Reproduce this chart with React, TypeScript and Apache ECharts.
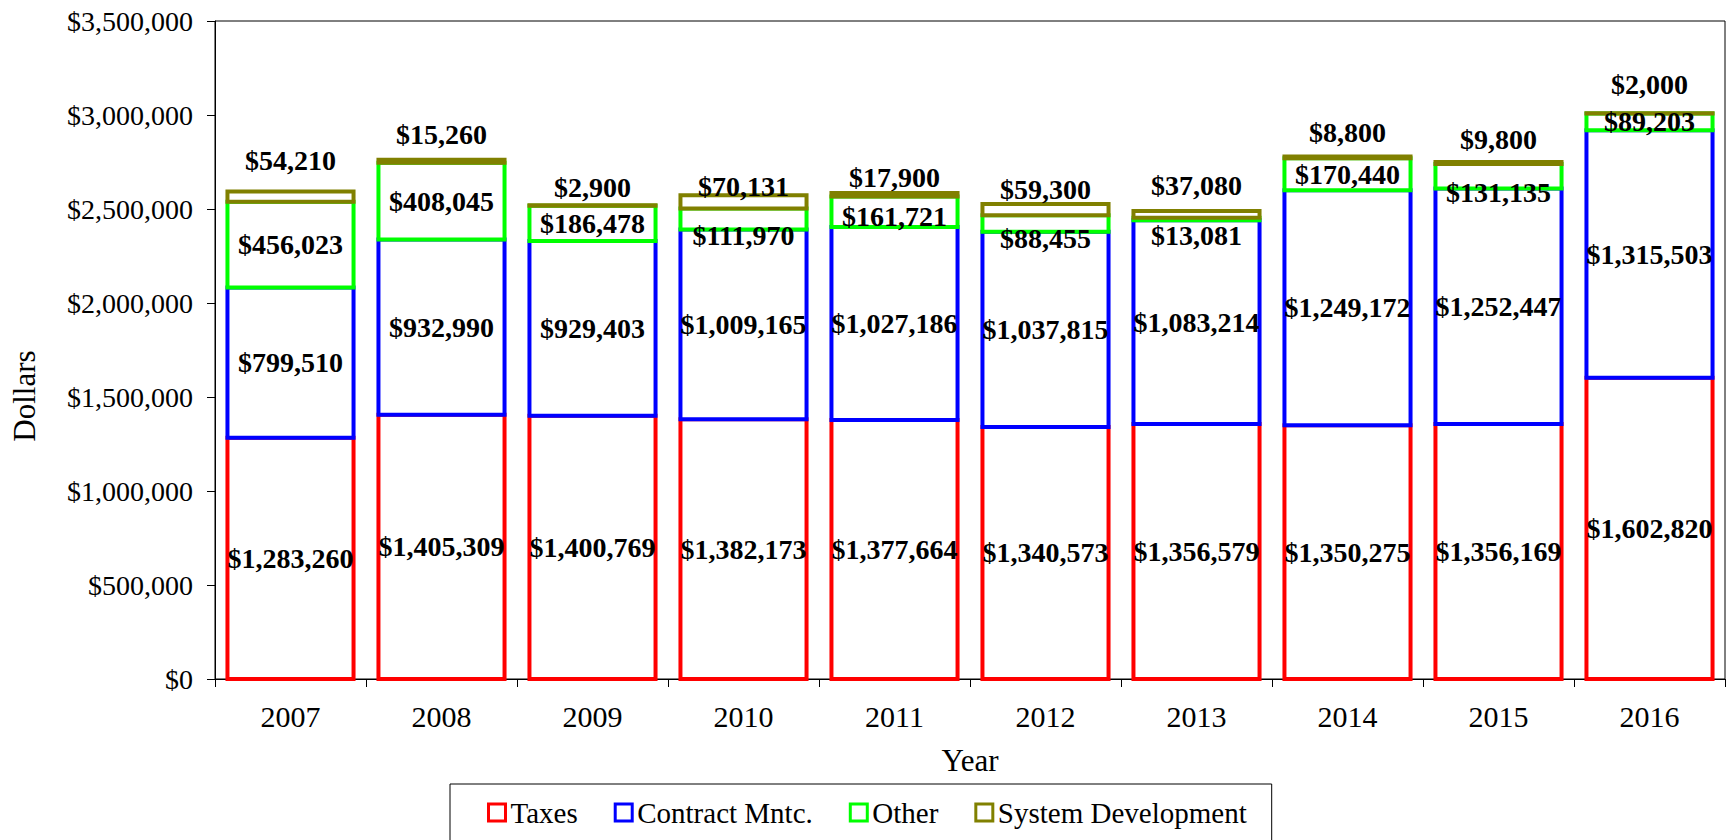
import React, { useEffect, useRef } from "react";
import * as echarts from "echarts";

const years = ["2007", "2008", "2009", "2010", "2011", "2012", "2013", "2014", "2015", "2016"];
const taxes = [1283260, 1405309, 1400769, 1382173, 1377664, 1340573, 1356579, 1350275, 1356169, 1602820];
const contractMntc = [799510, 932990, 929403, 1009165, 1027186, 1037815, 1083214, 1249172, 1252447, 1315503];
const other = [456023, 408045, 186478, 111970, 161721, 88455, 13081, 170440, 131135, 89203];
const systemDevelopment = [54210, 15260, 2900, 70131, 17900, 59300, 37080, 8800, 9800, 2000];
const yTicks = { min: 0, max: 3500000, interval: 500000 };

// label placement tweaks (style only, px), as in the reference
const otherLabelNudge = [0, 0, 0, 17, 5, 15, 16, 0, 16, 0];
const sysDevLabelNudge = [-8, -2, 5, 14, 7, 8, -2, -1, 0, -6];

const FONT = "'Liberation Serif', 'Times New Roman', serif";
const money = (v: number) => "$" + Math.round(v).toLocaleString("en-US");

const seriesDefs = [
  { name: "Taxes", values: taxes, color: "#FF0000", mode: "inside", nudge: null as number[] | null },
  { name: "Contract Mntc.", values: contractMntc, color: "#0000FF", mode: "inside", nudge: null as number[] | null },
  { name: "Other", values: other, color: "#00FF00", mode: "inside", nudge: otherLabelNudge },
  { name: "System Development", values: systemDevelopment, color: "#808000", mode: "top", nudge: sysDevLabelNudge },
];

export default function App() {
  const ref = useRef<HTMLDivElement>(null);
  useEffect(() => {
    if (!ref.current) return;
    const chart = echarts.init(ref.current, null, { renderer: "svg" });

    const series = seriesDefs.map((def, s) => {
      const data = years.map((_, i) => {
        let base = 0;
        for (let k = 0; k < s; k++) base += seriesDefs[k].values[i];
        return [i, base, base + def.values[i], def.values[i]];
      });
      return {
        name: def.name,
        type: "custom",
        data,
        encode: { x: 0, y: [1, 2] },
        itemStyle: { color: "#fff", borderColor: def.color, borderWidth: 3 },
        renderItem: (params: any, api: any) => {
          const i = api.value(0);
          const lo = api.coord([i, api.value(1)]);
          const hi = api.coord([i, api.value(2)]);
          const bw = api.size([1, 0])[0] * 0.835;
          const nudge = def.nudge ? def.nudge[i] : 0;
          const ly = def.mode === "top" ? hi[1] - 23 + nudge : (lo[1] + hi[1]) / 2 + nudge;
          return {
            type: "group",
            children: [
              {
                type: "rect",
                shape: { x: lo[0] - bw / 2, y: hi[1], width: bw, height: lo[1] - hi[1] },
                style: { fill: "#fff", stroke: def.color, lineWidth: 4 },
              },
              {
                type: "text",
                x: lo[0],
                y: ly,
                z2: 100,
                style: {
                  text: money(api.value(3)),
                  fontFamily: FONT,
                  fontWeight: "bold",
                  fontSize: 28,
                  fill: "#000",
                  textAlign: "center",
                  textVerticalAlign: "middle",
                },
              },
            ],
          };
        },
      };
    });

    chart.setOption({
      animation: false,
      textStyle: { fontFamily: FONT },
      grid: {
        left: 215,
        right: 5,
        top: 21,
        bottom: 161,
        show: true,
        borderColor: "#000",
        borderWidth: 1,
        containLabel: false,
        outerBoundsMode: "none",
      },
      legend: {
        left: 450,
        top: 784,
        padding: [14, 25, 40, 37],
        borderColor: "#000",
        borderWidth: 1,
        backgroundColor: "#fff",
        itemWidth: 17,
        itemHeight: 17,
        itemGap: 36,
        icon: "rect",
        textStyle: { fontFamily: FONT, fontSize: 29, color: "#000" },
        data: seriesDefs.map((d) => ({
          name: d.name,
          itemStyle: { color: "#fff", borderColor: d.color, borderWidth: 3 },
        })),
      },
      xAxis: {
        type: "category",
        data: years,
        name: "Year",
        nameLocation: "middle",
        nameGap: 66,
        nameTextStyle: { fontFamily: FONT, fontSize: 31, color: "#000" },
        axisLine: { lineStyle: { color: "#000", width: 1 } },
        axisTick: { show: true, length: 8, lineStyle: { color: "#000" } },
        axisLabel: { fontFamily: FONT, fontSize: 30, color: "#000", margin: 22 },
        splitLine: { show: false },
      },
      yAxis: {
        type: "value",
        min: yTicks.min,
        max: yTicks.max,
        interval: yTicks.interval,
        axisLine: { show: true, lineStyle: { color: "#000", width: 1 } },
        axisTick: { show: true, length: 8, lineStyle: { color: "#000" } },
        axisLabel: {
          fontFamily: FONT,
          fontSize: 28,
          color: "#000",
          margin: 22,
          formatter: (v: number) => money(v),
        },
        splitLine: { show: false },
      },
      graphic: [
        {
          type: "text",
          x: 24,
          y: 396,
          rotation: Math.PI / 2,
          style: {
            text: "Dollars",
            fontFamily: FONT,
            fontSize: 31,
            fill: "#000",
            textAlign: "center",
            textVerticalAlign: "middle",
          },
        },
      ],
      series,
    });
    return () => chart.dispose();
  }, []);
  return (
    <div
      ref={ref}
      style={{ position: "fixed", left: 0, top: 0, width: 1730, height: 840, background: "#fff" }}
    />
  );
}
